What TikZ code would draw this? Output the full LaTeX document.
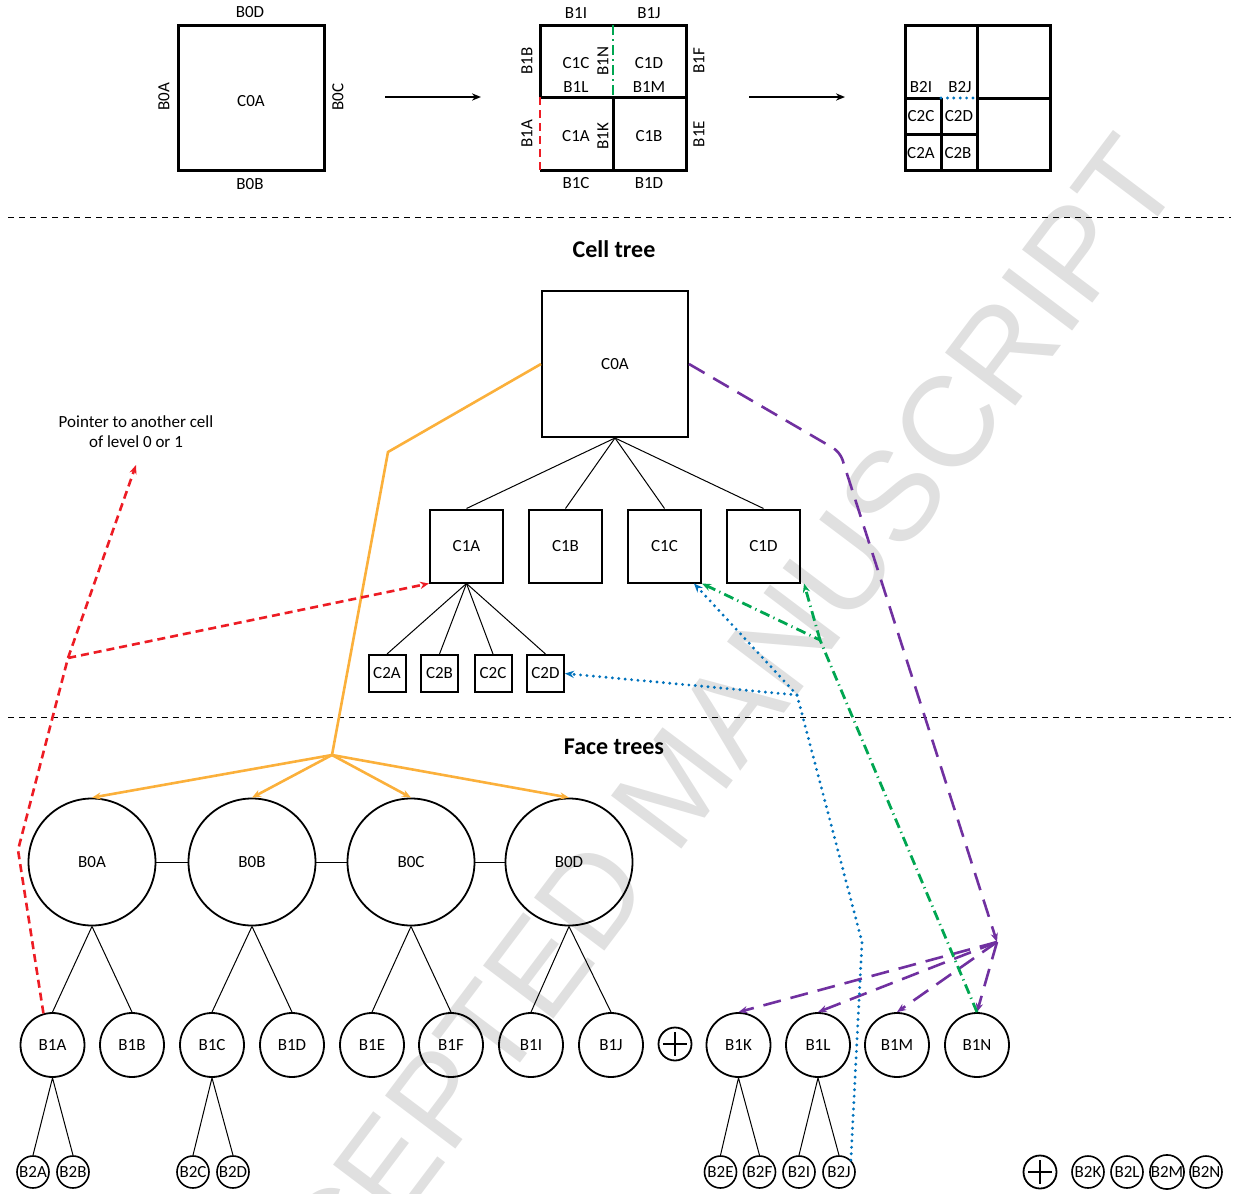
\documentclass[tikz,border=0pt]{standalone}
\usepackage{fontspec}
\setmainfont{Carlito}
\newfontfamily\wmfont{Liberation Sans}
\usetikzlibrary{arrows.meta}

\begin{document}
\begin{tikzpicture}[x=0.5pt,y=-0.5pt,font=\fontsize{8.5}{10}\selectfont,
  cellbox/.style={draw,line width=1pt,minimum size=#1,inner sep=0pt},
  face/.style={circle,draw,line width=0.9pt,minimum size=#1,inner sep=0pt},
  oplus/.style={circle,draw,line width=0.9pt,minimum size=16.5pt,inner sep=0pt,
    path picture={\draw[line width=0.9pt]
      ([xshift=-5.8pt]path picture bounding box.center) -- ([xshift=5.8pt]path picture bounding box.center)
      ([yshift=-5.8pt]path picture bounding box.center) -- ([yshift=5.8pt]path picture bounding box.center);}},
  sqline/.style={line width=1.5pt},
  tree/.style={line width=0.5pt},
  tip/.style={-{Stealth[length=4.5pt,width=3.6pt]}},
  orangeline/.style={draw=faceorange,line width=1.3pt},
  redline/.style={draw=ptrred,line width=1.3pt,dash pattern=on 4pt off 2.5pt},
  purpleline/.style={draw=ptrpurple,line width=1.3pt,dash pattern=on 9pt off 5pt},
  greenline/.style={draw=ptrgreen,line width=1.4pt,dash pattern=on 5pt off 2.2pt on 0.6pt off 2.2pt},
  blueline/.style={draw=ptrblue,line width=1.6pt,line cap=round,dash pattern=on 0pt off 3.2pt},
  sepline/.style={line width=0.5pt,dash pattern=on 3pt off 2.5pt}]
  \definecolor{faceorange}{RGB}{251,176,59}
  \definecolor{ptrred}{RGB}{237,28,36}
  \definecolor{ptrpurple}{RGB}{112,48,160}
  \definecolor{ptrgreen}{RGB}{0,166,81}
  \definecolor{ptrblue}{RGB}{0,114,188}

  \useasboundingbox (0,0) rectangle (1233,1194);
  \clip (0,0) rectangle (1233,1194);

  % watermark
  \node[rotate=53,text=black!12,font=\wmfont\fontsize{64}{64}\selectfont] (wm) at (675,785) {ACCEPTED MANUSCRIPT};

  % refinement steps
  \draw[sqline] (178,25) rectangle (324,170);
  \draw[sqline] (540,97) -- (540,25) -- (686,25) -- (686,170) -- (540,170);
  \draw[sqline] (540,97) -- (686,97) (613,97) -- (613,170);
  \draw[greenline] (613,25) -- (613,97);
  \draw[redline] (540,97) -- (540,170);
  \draw[sqline] (905,25) rectangle (1050,170);
  \draw[sqline] (977,25) -- (977,170) (905,98) -- (941,98) (977,98) -- (1050,98);
  \draw[sqline] (941,98) -- (941,170) (905,134) -- (977,134);
  \draw[blueline] (941,98) -- (977,98);

  \coordinate (s1) at (385,97);  \coordinate (e1) at (481,97);
  \coordinate (s2) at (749,97);  \coordinate (e2) at (845,97);
  \draw[tip,line width=0.8pt] (s1) -- (e1);
  \draw[tip,line width=0.8pt] (s2) -- (e2);

  \foreach \x/\y/\t in {250/12/B0D,250/184/B0B,251/101/C0A,
      576/13/B1I,649/13/B1J,576/183/B1C,649/183/B1D,576/63/C1C,649/63/C1D,
      576/87/B1L,649/87/B1M,576/136/C1A,649/136/C1B,
      921/87/B2I,960/87/B2J,921/116/C2C,959/116/C2D,921/153/C2A,958/153/C2B}
    {\node[inner sep=0pt] (t\t) at (\x,\y) {\t};}
  \foreach \x/\y/\t in {164/97/B0A,338/97/B0C,527/61/B1B,527/134/B1A,
      699/61/B1F,699/134/B1E,603/61/B1N,603/136/B1K}
    {\node[rotate=90,inner sep=0pt] (t\t) at (\x,\y) {\t};}

  \draw[sepline] (8,217) -- (1231,217);
  \draw[sepline] (8,717) -- (1231,717);

  % cell tree
  \node[font=\fontsize{12}{14}\selectfont\bfseries] (celltitle) at (614,249) {Cell tree};
  \node[cellbox=73pt] (c0a) at (615,364) {C0A};
  \foreach \n/\t/\x in {c1a/C1A/466.5,c1b/C1B/565.5,c1c/C1C/664.5,c1d/C1D/763.5}
    {\node[cellbox=36.5pt] (\n) at (\x,546) {\t};
     \draw[tree] (c0a.south) -- (\n.north);}
  \foreach \n/\t/\x in {c2a/C2A/387,c2b/C2B/439.5,c2c/C2C/493,c2d/C2D/545.5}
    {\node[cellbox=18.5pt] (\n) at (\x,673.5) {\t};
     \draw[tree] (c1a.south) -- (\n.north);}

  \node[align=center,inner sep=0pt] (ptrtext) at (136,432) {Pointer to another cell\\of level 0 or 1};

  % face trees
  \node[font=\fontsize{12}{14}\selectfont\bfseries] (facetitle) at (614,747) {Face trees};
  \foreach \n/\t/\x in {b0a/B0A/92,b0b/B0B/252,b0c/B0C/411,b0d/B0D/569}
    {\node[face=63.5pt] (\n) at (\x,862) {\t};}
  \draw[tree] (b0a) -- (b0b) (b0b) -- (b0c) (b0c) -- (b0d);

  \foreach \n/\t/\x in {b1a/B1A/52.5,b1b/B1B/132,b1c/B1C/212,b1d/B1D/292,
      b1e/B1E/372,b1f/B1F/451,b1i/B1I/531,b1j/B1J/611,
      b1k/B1K/738.5,b1l/B1L/818,b1m/B1M/897,b1n/B1N/977}
    {\node[face=32pt] (\n) at (\x,1045) {\t};}
  \node[oplus] (plusa) at (675,1044) {};
  \foreach \p/\a/\b in {b0a/b1a/b1b,b0b/b1c/b1d,b0c/b1e/b1f,b0d/b1i/b1j}
    {\draw[tree] (\p.south) -- (\a.north) (\p.south) -- (\b.north);}

  \foreach \n/\t/\x in {b2a/B2A/33,b2b/B2B/73,b2c/B2C/193,b2d/B2D/233,
      b2e/B2E/720.5,b2f/B2F/759.5,b2i/B2I/799,b2j/B2J/839,
      b2k/B2K/1088,b2l/B2L/1127,b2m/B2M/1167,b2n/B2N/1206}
    {\node[face=16pt,line width=0.8pt] (\n) at (\x,1172) {\t};}
  \node[oplus] (plusb) at (1040,1172) {};
  \foreach \p/\a/\b in {b1a/b2a/b2b,b1c/b2c/b2d,b1k/b2e/b2f,b1l/b2i/b2j}
    {\draw[tree] (\p.south) -- (\a.north) (\p.south) -- (\b.north);}

  % pointers
  \coordinate (obend) at (388,452);
  \coordinate (ohub) at (332,755);
  \draw[orangeline] (c0a.west) -- (obend) -- (ohub);
  \foreach \n in {b0a,b0b,b0c,b0d}
    {\draw[orangeline,tip] (ohub) -- (\n.north);}

  \coordinate (rlow) at (18,850);
  \coordinate (rbend) at (68,658);
  \coordinate (rptr) at (136,465);
  \draw[redline,tip] (b1a.106) -- (rlow) -- (rbend) -- (c1a.south west);
  \draw[redline,tip] (rbend) -- (rptr);

  \coordinate (pbend) at (840,452);
  \coordinate (phub) at (997,942);
  \draw[purpleline,tip,rounded corners=4pt] (c0a.east) -- (pbend) -- (phub);
  \foreach \n in {b1k,b1l,b1m,b1n}
    {\draw[purpleline,tip] (phub) -- (\n.north);}

  \coordinate (gbend) at (820,640);
  \draw[greenline,tip] (b1n.north) -- (gbend) -- (c1c.south east);
  \draw[greenline,tip] (gbend) -- ([xshift=1.5pt]c1d.south east);

  \coordinate (blow) at (862,942);
  \coordinate (bbend) at (797,695);
  \draw[blueline,tip] (b2j.north east) -- (blow) -- (bbend) -- (c2d.east);
  \draw[blueline,tip] (bbend) -- ([xshift=-4pt]c1c.south east);
\end{tikzpicture}
\end{document}
